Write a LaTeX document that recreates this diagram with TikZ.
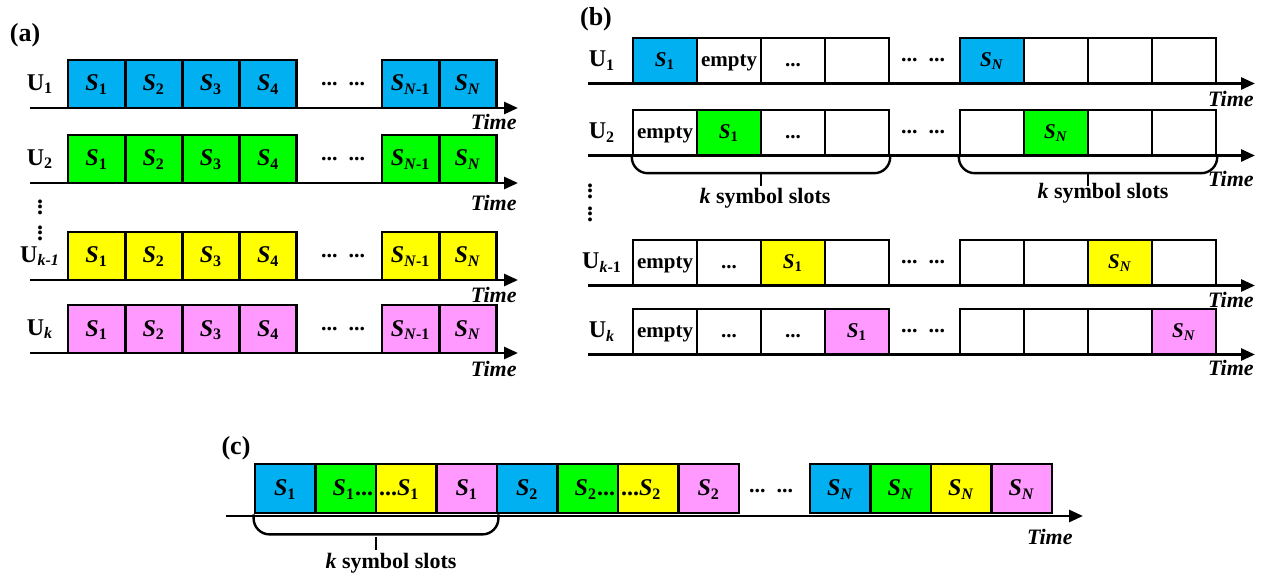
\documentclass[tikz,border=0pt]{standalone}
\usepackage{fontspec}
\setmainfont{Liberation Serif}
\usepackage{tikz}
\usetikzlibrary{arrows.meta}
\newcommand\Sy[1]{\textit{S}\textsubscript{#1}}
\newcommand\Us[1]{U\textsubscript{#1}}
\newcommand\el{...}
\newcommand\vd{\vbox{\baselineskip2.8pt\lineskiplimit0pt\lineskip0pt\hbox{.}\hbox{.}\hbox{.}}}
\definecolor{cblue}{RGB}{0,176,240}
\definecolor{cgreen}{RGB}{0,255,0}
\definecolor{cyellow}{RGB}{255,255,0}
\definecolor{cpink}{RGB}{255,153,255}
\tikzset{
  slota/.style={draw,line width=1.4pt,minimum width=28.6pt,minimum height=24pt,inner sep=0pt,text height=9pt,text depth=2pt,font=\bfseries\fontsize{12}{14}\selectfont},
  slotb/.style={draw,line width=1.2pt,minimum width=32pt,minimum height=22.5pt,inner sep=0pt,text height=8pt,text depth=2pt,font=\bfseries\fontsize{10.5}{13}\selectfont},
  slotc/.style={draw,line width=1.4pt,minimum width=30.25pt,minimum height=24.5pt,inner sep=0pt,text height=9pt,text depth=2pt,font=\bfseries\fontsize{12}{14}\selectfont},
  slottxt/.style={inner sep=2pt,text height=9pt,text depth=2pt,font=\bfseries\fontsize{12}{14}\selectfont},
  axis/.style={line width=1.4pt,-{Triangle[length=7pt,width=6pt]}},
  timelbl/.style={inner sep=0pt,font=\bfseries\itshape\fontsize{11}{13}\selectfont},
  ulbl/.style={inner sep=0pt,font=\bfseries\fontsize{12}{14}\selectfont},
  dots/.style={inner sep=0pt,font=\bfseries\fontsize{11}{13}\selectfont},
  klbl/.style={inner sep=0pt,font=\bfseries\fontsize{11}{13}\selectfont},
  panel/.style={inner sep=0pt,font=\bfseries\fontsize{13}{15}\selectfont},
  brace/.style={line width=1.2pt,rounded corners=8pt},
}

\begin{document}
\begin{tikzpicture}[x=0.5pt,y=-0.5pt]

\useasboundingbox (0,0) rectangle (1263,577);

\node[panel] (pa) at (25,35) {(a)};
\node[panel] (pb) at (596,19) {(b)};
\node[panel] (pc) at (236,448) {(c)};

\foreach \yc/\ty/\col/\sub [count=\r] in {84/122/cblue/1,159/203/cgreen/2,256/295/cyellow/\textit{k-1},329/369/cpink/\textit{k}}{
  \coordinate (a\r-l) at (30,\yc+24);
  \coordinate (a\r-r) at (518,\yc+24);
  \draw[axis] (a\r-l) -- (a\r-r);
  \node[ulbl] (ua\r) at (40,\yc) {\Us{\sub}};
  \node[slota,fill=\col] (a\r-1) at (96.6,\yc) {\Sy{1}};
  \node[slota,fill=\col] (a\r-2) at (153.8,\yc) {\Sy{2}};
  \node[slota,fill=\col] (a\r-3) at (211,\yc) {\Sy{3}};
  \node[slota,fill=\col] (a\r-4) at (268.2,\yc) {\Sy{4}};
  \node[dots] (a\r-d) at (343,\yc) {\el\ \ \el};
  \node[slota,fill=\col] (a\r-m) at (410.6,\yc) {\Sy{\textit{N}-1}};
  \node[slota,fill=\col] (a\r-n) at (467.8,\yc) {\Sy{\textit{N}}};
  \node[timelbl,anchor=east] (ta\r) at (517,\ty) {Time};
}
\node[ulbl] (va1) at (40,207) {\vd};
\node[ulbl] (va2) at (40,233) {\vd};

\foreach \yc/\ty/\sub [count=\r] in {60.5/99/1,132.5/179/2,262.5/300/\textit{k}-1,331.5/368/\textit{k}}{
  \coordinate (b\r-l) at (588,\yc+23);
  \coordinate (b\r-r) at (1255,\yc+23);
  \draw[axis] (b\r-l) -- (b\r-r);
  \node[ulbl] (ub\r) at (602,\yc) {\Us{\sub}};
  \node[dots] (b\r-d) at (923,\yc) {\el\ \ \el};
  \node[timelbl,anchor=east] (tb\r) at (1254,\ty) {Time};
}
\foreach \xc/\col/\txt [count=\i] in {665/cblue/\Sy{1},729/white/empty,793/white/\el,857/white/{},992/cblue/\Sy{\textit{N}},1056/white/{},1120/white/{},1184/white/{}}
  \node[slotb,fill=\col] (b1-\i) at (\xc,60.5) {\txt};
\foreach \xc/\col/\txt [count=\i] in {665/white/empty,729/cgreen/\Sy{1},793/white/\el,857/white/{},992/white/{},1056/cgreen/\Sy{\textit{N}},1120/white/{},1184/white/{}}
  \node[slotb,fill=\col] (b2-\i) at (\xc,132.5) {\txt};
\foreach \xc/\col/\txt [count=\i] in {665/white/empty,729/white/\el,793/cyellow/\Sy{1},857/white/{},992/white/{},1056/white/{},1120/cyellow/\Sy{\textit{N}},1184/white/{}}
  \node[slotb,fill=\col] (b3-\i) at (\xc,262.5) {\txt};
\foreach \xc/\col/\txt [count=\i] in {665/white/empty,729/white/\el,793/white/\el,857/cpink/\Sy{1},992/white/{},1056/white/{},1120/white/{},1184/cpink/\Sy{\textit{N}}}
  \node[slotb,fill=\col] (b4-\i) at (\xc,331.5) {\txt};

\draw[brace] (b2-1.south west) -- ++(0,17) -| (b2-4.south east);
\coordinate (k1) at (761,173);
\draw[brace] (k1) -- ++(0,13);
\node[klbl] (kb1) at (765,198) {\textit{k} symbol slots};
\draw[brace] (b2-5.south west) -- ++(0,17) -| (b2-8.south east);
\coordinate (k2) at (1088,173);
\draw[brace] (k2) -- ++(0,13);
\node[klbl] (kb2) at (1103,193) {\textit{k} symbol slots};
\node[ulbl] (vb1) at (590,191) {\vd};
\node[ulbl] (vb2) at (590,214) {\vd};

\coordinate (cl) at (226,516);
\coordinate (cr) at (1083,516);
\draw[axis] (cl) -- (cr);
\foreach \xc/\col/\txt [count=\i] in {285.25/cblue/\Sy{1},345.75/cgreen/{},406.25/cyellow/{},466.75/cpink/\Sy{1},527.25/cblue/\Sy{2},587.75/cgreen/{},648.25/cyellow/{},708.75/cpink/\Sy{2},840.25/cblue/\Sy{\textit{N}},900.75/cgreen/\Sy{\textit{N}},961.25/cyellow/\Sy{\textit{N}},1021.75/cpink/\Sy{\textit{N}}}
  \node[slotc,fill=\col] (c\i) at (\xc,488.5) {\txt};
\node[slottxt,anchor=east] (c2t) at (c2.east) {\Sy{1}\el};
\node[slottxt,anchor=west] (c3t) at (c3.west) {\el\Sy{1}};
\node[slottxt,anchor=east] (c6t) at (c6.east) {\Sy{2}\el};
\node[slottxt,anchor=west] (c7t) at (c7.west) {\el\Sy{2}};
\node[dots] (cd) at (771,491) {\el\ \ \el};
\node[timelbl,anchor=east] (tc) at (1073,537) {Time};
\draw[brace] (c1.south west) -- ++(0,20) -| (c4.south east);
\coordinate (k3) at (376,537);
\draw[brace] (k3) -- ++(0,13);
\node[klbl] (kc) at (391,563) {\textit{k} symbol slots};

\end{tikzpicture}
\end{document}
